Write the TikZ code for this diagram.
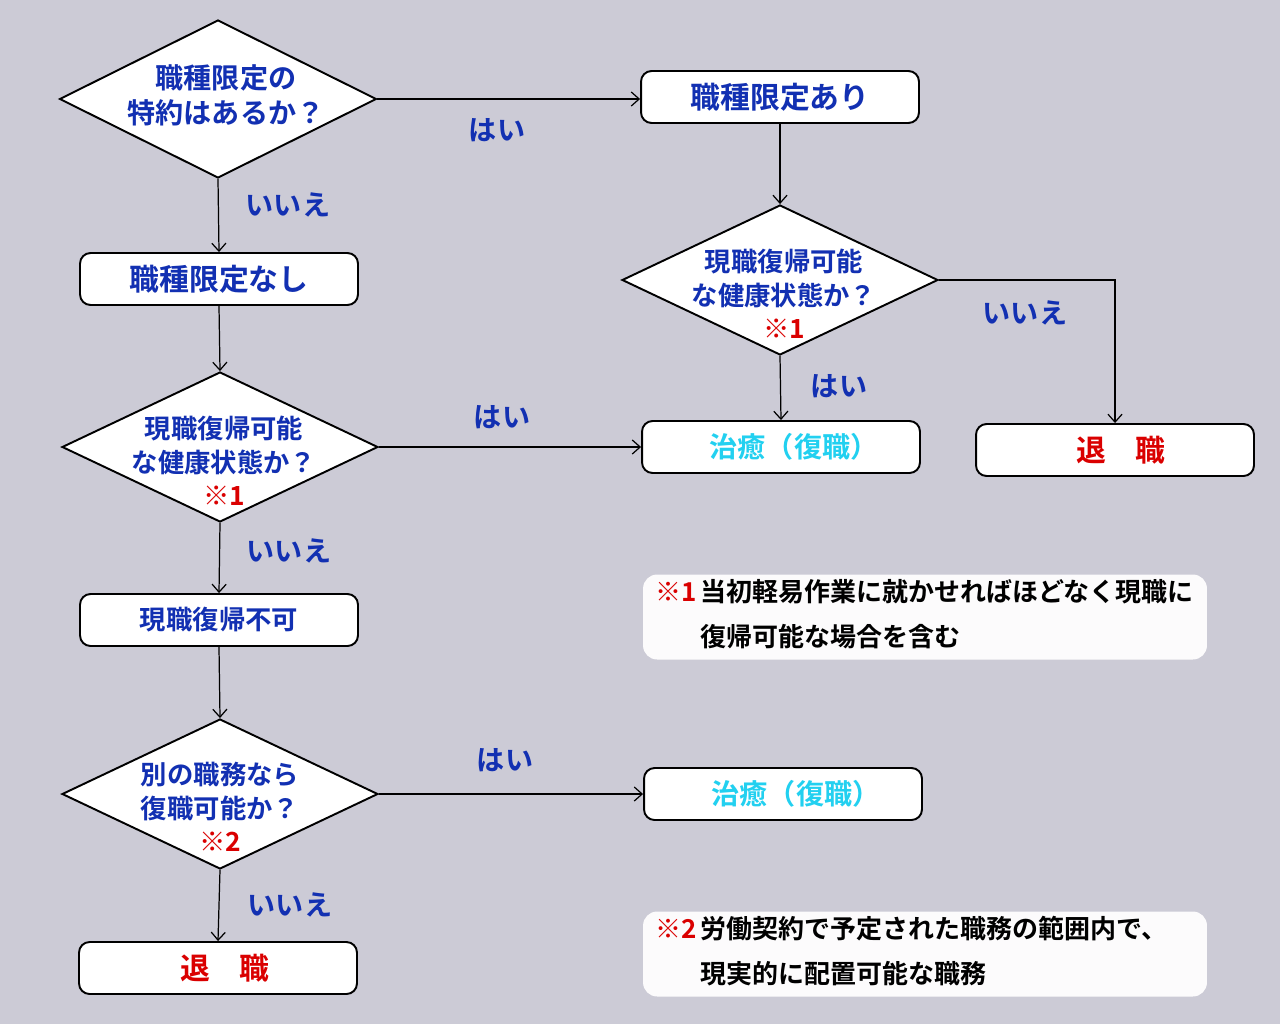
\documentclass[tikz,border=0pt]{standalone}
\usepackage{fontspec}
\setmainfont{Noto Sans CJK JP}[BoldFont={Noto Sans CJK JP Bold}]
\usetikzlibrary{shapes.geometric,arrows.meta}
\definecolor{bgcol}{RGB}{204,203,214}
\definecolor{qblue}{RGB}{18,48,178}
\definecolor{okcyan}{RGB}{34,208,240}
\definecolor{ngred}{RGB}{218,0,0}
\definecolor{notecol}{RGB}{252,251,252}
\tikzset{
  ques/.style={diamond, draw, line width=1.1pt, fill=white, inner sep=0pt,
    minimum width=6.32cm, minimum height=3cm},
  qtext/.style={align=center, text=qblue, inner sep=0pt,
    font=\fontsize{15}{19}\selectfont\bfseries},
  box/.style={draw, line width=1.1pt, rounded corners=6pt, fill=white,
    minimum width=5.56cm, minimum height=1.04cm, inner sep=0pt},
  ans/.style={text=qblue, font=\fontsize{16}{20}\selectfont\bfseries},
  note/.style={fill=notecol, rounded corners=8pt, minimum width=11.28cm,
    minimum height=1.7cm, inner sep=0pt},
  notetext/.style={anchor=west, inner sep=0pt,
    font=\fontsize{14.8}{18}\selectfont\bfseries},
  arr/.style={-{Straight Barb[length=4.5pt,width=8pt]}, line width=0.7pt}
}
\begin{document}
\begin{tikzpicture}[x=0.02cm,y=-0.02cm]
  \fill[bgcol] (0,0) rectangle (1280,1024);
  \node[ques, minimum width=6.34cm, minimum height=3.16cm] (q1) at (218,99) {};
  \node[qtext, font=\fontsize{16}{20}\selectfont\bfseries] (q1t) at (226,95) {職種限定の\\特約はあるか？};
  \node[box] (b1) at (780,97) {};
  \node[text=qblue, font=\fontsize{17}{20}\selectfont\bfseries] (b1t) at (b1) {職種限定あり};
  \node[box] (b2) at (219,279) {};
  \node[text=qblue, font=\fontsize{17}{20}\selectfont\bfseries] (b2t) at (b2) {職種限定なし};
  \node[ques] (q2) at (220,447) {};
  \node[qtext] (q2t) at (224,461) {現職復帰可能\\な健康状態か？\\\textcolor{ngred}{※1}};
  \node[ques] (q4) at (780,280) {};
  \node[qtext] (q4t) at (784,294) {現職復帰可能\\な健康状態か？\\\textcolor{ngred}{※1}};
  \node[box] (c1) at (781,447) {};
  \node[text=okcyan, font=\fontsize{16}{20}\selectfont\bfseries] (c1t) at (794,447) {治癒（復職）};
  \node[box] (r1) at (1115,450) {};
  \node[text=ngred, font=\fontsize{17}{20}\selectfont\bfseries] (r1t) at (1121,450) {退　職};
  \node[box] (b3) at (219,620) {};
  \node[text=qblue, font=\fontsize{15}{20}\selectfont\bfseries] (b3t) at (b3) {現職復帰不可};
  \node[ques] (q3) at (220,794) {};
  \node[qtext] (q3t) at (220,807) {別の職務なら\\復職可能か？\\\textcolor{ngred}{※2}};
  \node[box] (c2) at (783,794) {};
  \node[text=okcyan, font=\fontsize{16}{20}\selectfont\bfseries] (c2t) at (796,794) {治癒（復職）};
  \node[box] (r2) at (218,968) {};
  \node[text=ngred, font=\fontsize{17}{20}\selectfont\bfseries] (r2t) at (225,968) {退　職};

  \node[ans] (y1) at (497,130) {はい};
  \node[ans] (n1) at (288,205) {いいえ};
  \node[ans] (y2) at (502,417) {はい};
  \node[ans] (n2) at (289,551) {いいえ};
  \node[ans] (y3) at (505,760) {はい};
  \node[ans] (n3) at (290,905) {いいえ};
  \node[ans] (y4) at (839,386) {はい};
  \node[ans] (n4) at (1025,313) {いいえ};

  \draw[arr] (q1.east) -- (q1.east -| b1.west);
  \draw[arr] (q1.south) -- (b2.north);
  \draw[arr] (b2.south) -- (q2.north);
  \draw[arr] (q2.east) -- (q2.east -| c1.west);
  \draw[arr] (q2.south) -- (b3.north);
  \draw[arr] (b3.south) -- (q3.north);
  \draw[arr] (q3.east) -- (q3.east -| c2.west);
  \draw[arr] (q3.south) -- (r2.north);
  \draw[arr] (b1.south) -- (q4.north);
  \draw[arr] (q4.south) -- (c1.north);
  \draw[arr] (q4.east) -| (r1.north);

  \node[note] (m1) at (925,617) {};
  \node[notetext] (m1a) at (655,592) {\textcolor{ngred}{※1}\hspace{2pt}当初軽易作業に就かせればほどなく現職に};
  \node[notetext] (m1b) at (700,637) {復帰可能な場合を含む};
  \node[note] (m2) at (925,954) {};
  \node[notetext] (m2a) at (655,929) {\textcolor{ngred}{※2}\hspace{2pt}労働契約で予定された職務の範囲内で、};
  \node[notetext] (m2b) at (700,974) {現実的に配置可能な職務};
\end{tikzpicture}
\end{document}
